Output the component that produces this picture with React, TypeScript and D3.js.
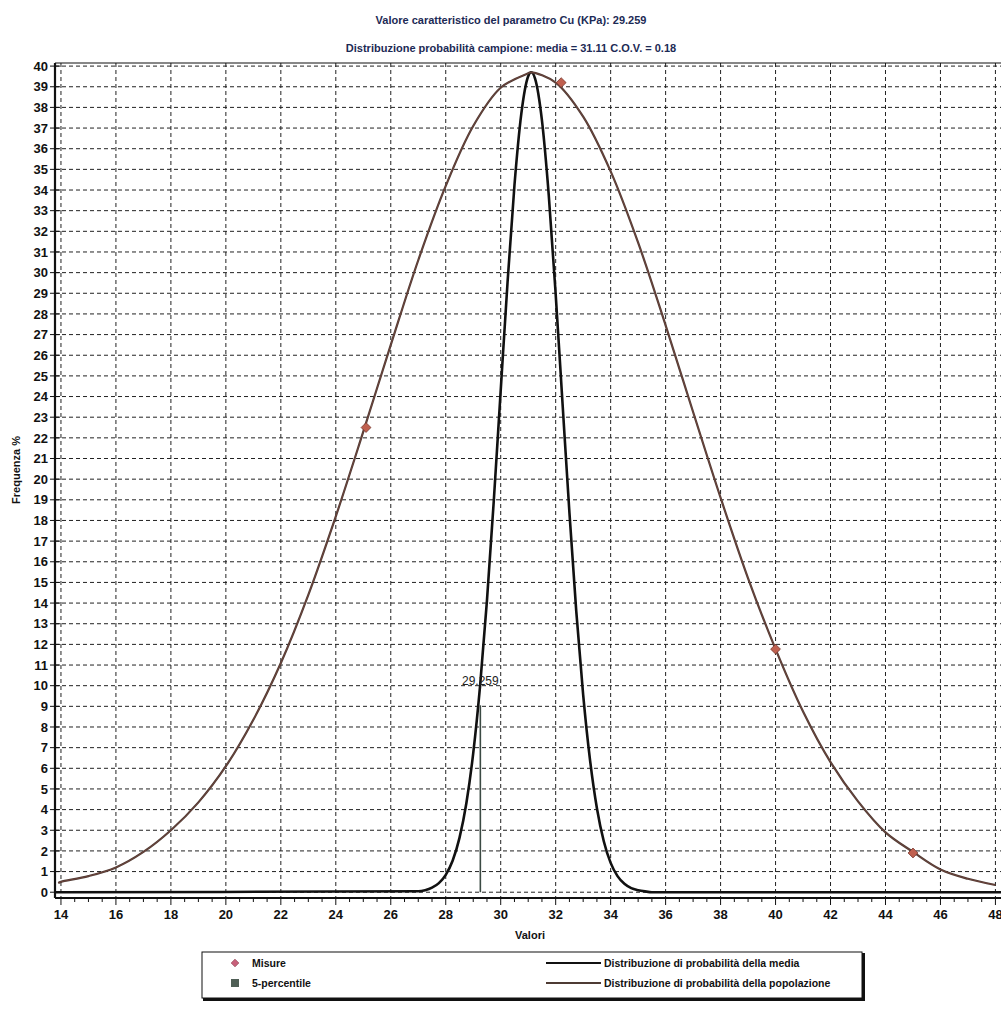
import React from 'react';
import * as d3 from 'd3';

const titleMain = 'Valore caratteristico del parametro Cu (KPa): 29.259';
const titleSub = 'Distribuzione probabilità campione: media = 31.11 C.O.V. = 0.18';
const xLabel = 'Valori';
const yLabel = 'Frequenza %';

// Population distribution
const popX = [13.9, 14, 15, 16, 17, 18, 19, 20, 21, 22, 23, 24, 25, 26, 27, 28, 29, 30, 31, 31.11, 32, 33, 34, 35, 36, 37, 38, 39, 40, 41, 42, 43, 44, 45, 46, 47, 48];
const popY = [0.45, 0.5, 0.78, 1.2, 1.95, 3.0, 4.35, 6.1, 8.35, 11.1, 14.4, 18.2, 22.3, 26.5, 30.6, 34.2, 37.1, 38.95, 39.65, 39.7, 39.2, 37.55, 34.9, 31.45, 27.45, 23.25, 19.1, 15.2, 11.77, 8.75, 6.3, 4.4, 2.9, 1.95, 1.1, 0.65, 0.35];

// Distribution of the mean
const meanX = [13.8, 27, 27.25, 27.5, 27.75, 28, 28.25, 28.5, 28.75, 29, 29.25, 29.5, 29.75, 30, 30.25, 30.5, 30.75, 31, 31.11, 31.25, 31.5, 31.75, 32, 32.25, 32.5, 32.75, 33, 33.25, 33.5, 33.75, 34, 34.25, 34.5, 34.75, 35, 35.25, 35.5, 48.6];
const meanY = [0, 0.05, 0.1, 0.22, 0.44, 0.84, 1.52, 2.63, 4.31, 6.73, 10.0, 14.13, 18.99, 24.3, 29.56, 34.23, 37.7, 39.51, 39.7, 39.39, 37.37, 33.72, 28.95, 23.65, 18.38, 13.59, 9.56, 6.4, 4.07, 2.47, 1.42, 0.78, 0.41, 0.2, 0.1, 0.04, 0, 0];

// Measured points
const misureX = [25.1, 32.2, 40.0, 45.0];
const misureY = [22.5, 39.2, 11.77, 1.9];

// 5-percentile
const percentileValue = 29.259;
const percentileTop = 9.05;

const xTicks = [14, 16, 18, 20, 22, 24, 26, 28, 30, 32, 34, 36, 38, 40, 42, 44, 46, 48];
const yTicks = d3.range(0, 41);

const legendLeft = ['Misure', '5-percentile'];
const legendRight = ['Distribuzione di probabilità della media', 'Distribuzione di probabilità della popolazione'];

export default function App() {
  const W = 1001, H = 1020;
  const x = d3.scaleLinear().domain([13.783, 48.53]).range([55, 1010]);
  const y = d3.scaleLinear().domain([-0.28, 40.15]).range([898, 63]);
  const font = '"Liberation Sans", Arial, sans-serif';

  const popLine = d3.line<number>().x((d, i) => x(popX[i])).y((d) => y(d)).curve(d3.curveCatmullRom.alpha(0.5));
  const meanLine = d3.line<number>().x((d, i) => x(meanX[i])).y((d) => y(d)).curve(d3.curveMonotoneX);
  const diamond = d3.symbol().type(d3.symbolSquare).size(48)();
  const diamondSmall = d3.symbol().type(d3.symbolSquare).size(30)();

  const minorTicks = d3.range(14, 48.01, 0.5);
  const x0 = 55, yTop = 63, yBot = 898;

  return (
    <div style={{ position: 'absolute', left: 0, top: 0 }}>
      <svg width={W} height={H} style={{ display: 'block', background: '#ffffff' }} fontFamily={font}>
        <text x={511} y={24} textAnchor="middle" fontSize={11} fontWeight="bold" fill="#1c2a55">{titleMain}</text>
        <text x={511} y={52} textAnchor="middle" fontSize={11} fontWeight="bold" fill="#1c2a55">{titleSub}</text>

        {/* grid */}
        <g stroke="#222" strokeWidth={1} strokeDasharray="4,3" fill="none">
          {yTicks.map((t) => (
            <line key={'gy' + t} x1={x0} x2={W} y1={y(t)} y2={y(t)} />
          ))}
          {xTicks.map((t) => (
            <line key={'gx' + t} x1={x(t)} x2={x(t)} y1={yTop} y2={yBot} />
          ))}
        </g>

        {/* frame */}
        <line x1={x0} x2={W} y1={yTop} y2={yTop} stroke="#111" strokeWidth={1.2} />
        <line x1={x0} x2={x0} y1={yTop} y2={yBot} stroke="#111" strokeWidth={2.2} />
        <line x1={x0} x2={W} y1={yBot} y2={yBot} stroke="#111" strokeWidth={2.2} />

        {/* y ticks & labels */}
        {yTicks.map((t) => (
          <g key={'yt' + t}>
            <line x1={50} x2={60} y1={y(t)} y2={y(t)} stroke="#111" strokeWidth={1} />
            <text x={48} y={y(t)} dy="0.36em" textAnchor="end" fontSize={13} fontWeight="bold" fill="#111">{t}</text>
          </g>
        ))}

        {/* x ticks & labels */}
        {minorTicks.map((t) => (
          <line key={'xm' + t} x1={x(t)} x2={x(t)} y1={yBot} y2={yBot + (t % 2 === 0 ? 7 : 4)} stroke="#111" strokeWidth={1} />
        ))}
        {xTicks.map((t) => (
          <text key={'xl' + t} x={x(t)} y={919} textAnchor="middle" fontSize={13} fontWeight="bold" fill="#111">{t}</text>
        ))}

        <text x={530} y={939} textAnchor="middle" fontSize={11} fontWeight="bold" fill="#111">{xLabel}</text>
        <text transform={`translate(20,470) rotate(-90)`} textAnchor="middle" fontSize={11} fontWeight="bold" fill="#111">{yLabel}</text>

        {/* curves */}
        <path d={meanLine(meanY) || ''} fill="none" stroke="#111" strokeWidth={2.6} />
        <path d={popLine(popY) || ''} fill="none" stroke="#4e3b34" strokeWidth={2.2} />
        <path d={popLine(popY) || ''} fill="none" stroke="#b4564c" strokeWidth={0.7} opacity={0.45} />

        {/* 5-percentile */}
        <line x1={x(percentileValue)} x2={x(percentileValue)} y1={y(percentileTop)} y2={y(0)} stroke="#3b4a43" strokeWidth={1.6} />
        <text x={x(percentileValue)} y={y(percentileTop) - 20} textAnchor="middle" fontSize={12} fill="#222">{percentileValue.toFixed(3)}</text>

        {/* measures */}
        {misureX.map((mx, i) => (
          <path key={'m' + i} d={diamond || ''} transform={`translate(${x(mx)},${y(misureY[i])}) rotate(45)`} fill="#c0604f" stroke="#7a3a30" strokeWidth={0.8} />
        ))}

        {/* legend */}
        <g>
          <rect x={202} y={952} width={660} height={46} fill="#fff" stroke="#111" strokeWidth={1} />
          <line x1={203} x2={864} y1={999.5} y2={999.5} stroke="#111" strokeWidth={3} />
          <line x1={863.5} x2={863.5} y1={953} y2={1001} stroke="#111" strokeWidth={3} />
          <path d={diamondSmall || ''} transform={`translate(235,963) rotate(45)`} fill="#c8607a" stroke="#8a3a4a" strokeWidth={0.6} />
          <rect x={231} y={979} width={8} height={8} fill="#4f5f56" />
          <text x={252} y={963} dy="0.35em" fontSize={10.5} fontWeight="bold" fill="#111">{legendLeft[0]}</text>
          <text x={252} y={983} dy="0.35em" fontSize={10.5} fontWeight="bold" fill="#111">{legendLeft[1]}</text>
          <line x1={546} x2={601} y1={963} y2={963} stroke="#111" strokeWidth={2} />
          <line x1={546} x2={601} y1={983} y2={983} stroke="#4e3b34" strokeWidth={2} />
          <text x={604} y={963} dy="0.35em" fontSize={10.5} fontWeight="bold" fill="#111">{legendRight[0]}</text>
          <text x={604} y={983} dy="0.35em" fontSize={10.5} fontWeight="bold" fill="#111">{legendRight[1]}</text>
        </g>
      </svg>
    </div>
  );
}
